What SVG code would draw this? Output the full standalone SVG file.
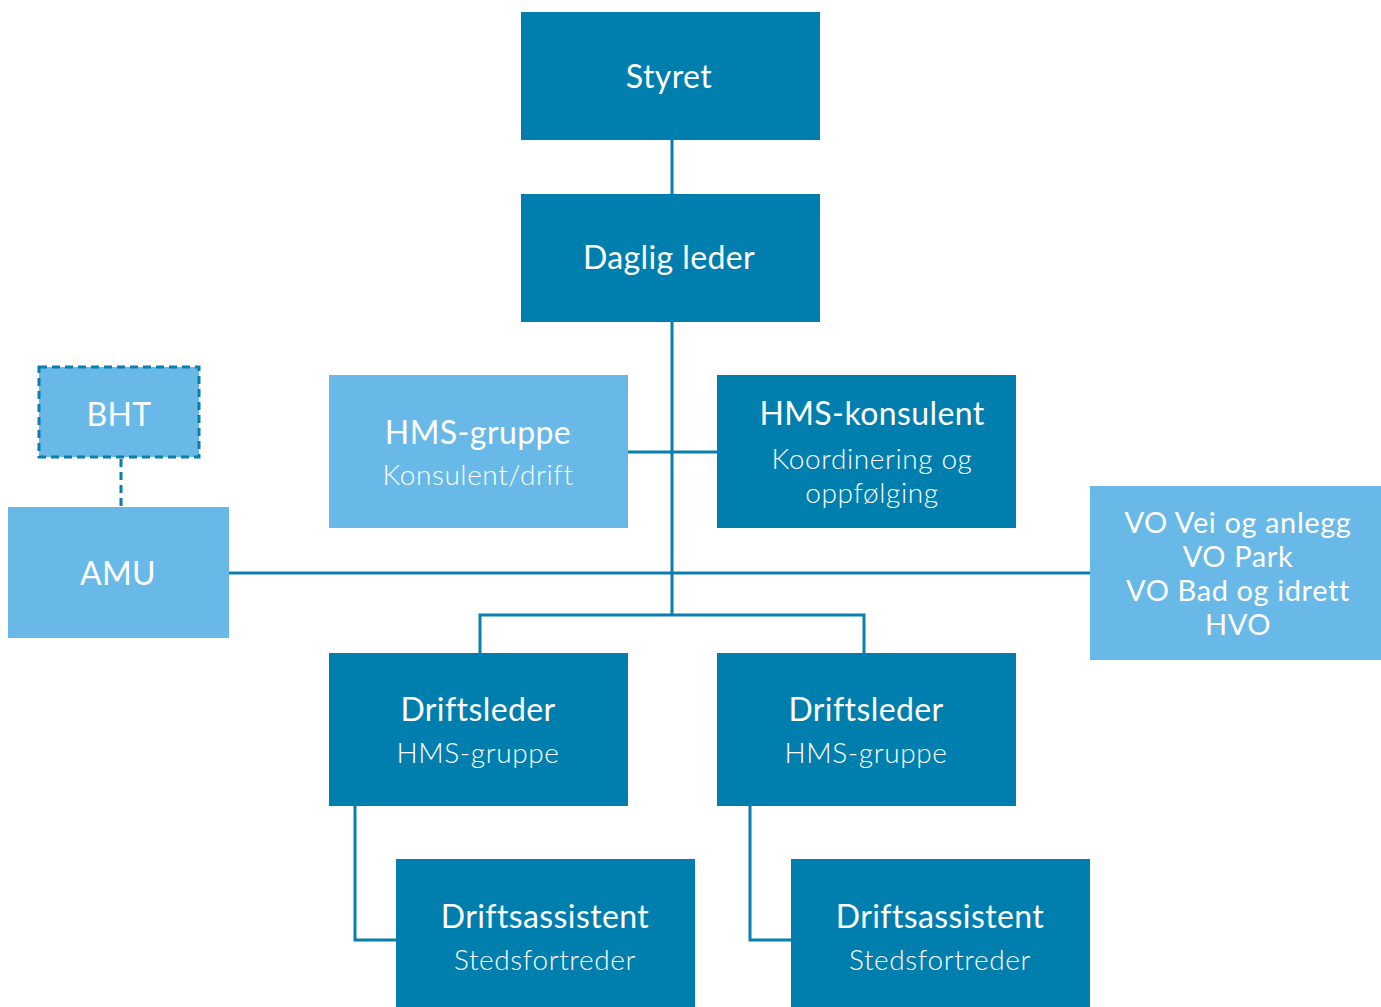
<svg xmlns="http://www.w3.org/2000/svg" width="1381" height="1007" viewBox="0 0 1381 1007">
<style>
.dark{fill:#007EAE}
.light{fill:#68B9E7}
.t{font-family:Lato,"Open Sans","Liberation Sans",sans-serif;fill:#fff;text-anchor:middle;font-size:32px;font-weight:400;letter-spacing:0.4px}
.s{font-family:Lato,"Open Sans","Liberation Sans",sans-serif;fill:#fff;text-anchor:middle;font-size:28px;font-weight:300;letter-spacing:0.6px}
.v{font-family:Lato,"Open Sans","Liberation Sans",sans-serif;fill:#fff;text-anchor:middle;font-size:29px;font-weight:400;letter-spacing:0.6px}
.c{fill:none;stroke:#0A7FAE;stroke-width:3}
</style>
<rect width="1381" height="1007" fill="#fff"/>
<g id="connectors">
<line class="c" x1="672" y1="140" x2="672" y2="194"/>
<line class="c" x1="672" y1="322" x2="672" y2="615"/>
<line class="c" x1="628" y1="452" x2="717" y2="452"/>
<line class="c" x1="229" y1="573" x2="1090" y2="573"/>
<polyline class="c" points="480,653 480,615 864,615 864,653"/>
<polyline class="c" points="355,806 355,940 396,940"/>
<polyline class="c" points="750,806 750,940 791,940"/>
<line class="c" x1="121" y1="459" x2="121" y2="507" stroke-dasharray="8,5"/>
</g>
<g id="styret"><rect class="dark" x="521" y="12" width="299" height="128"/><text class="t" x="669" y="88">Styret</text></g>
<g id="daglig-leder"><rect class="dark" x="521" y="194" width="299" height="128"/><text class="t" x="669" y="269">Daglig leder</text></g>
<g id="hms-gruppe"><rect class="light" x="329" y="375" width="299" height="153"/><text class="t" x="478" y="444">HMS-gruppe</text><text class="s" x="478" y="485">Konsulent/drift</text></g>
<g id="hms-konsulent"><rect class="dark" x="717" y="375" width="299" height="153"/><text class="t" x="872" y="425">HMS-konsulent</text><text class="s" x="872" y="469">Koordinering og</text><text class="s" x="872" y="503">oppfølging</text></g>
<g id="bht"><rect class="light" x="39" y="367" width="160" height="90" stroke="#0A7FAE" stroke-width="3" stroke-dasharray="8,5"/><text class="t" x="119" y="426">BHT</text></g>
<g id="amu"><rect class="light" x="8" y="507" width="221" height="131"/><text class="t" x="118" y="585">AMU</text></g>
<g id="vo"><rect class="light" x="1090" y="486" width="291" height="174"/><text class="v" x="1238" y="533">VO Vei og anlegg</text><text class="v" x="1238" y="567">VO Park</text><text class="v" x="1238" y="601">VO Bad og idrett</text><text class="v" x="1238" y="635">HVO</text></g>
<g id="driftsleder-1"><rect class="dark" x="329" y="653" width="299" height="153"/><text class="t" x="478" y="721">Driftsleder</text><text class="s" x="478" y="763">HMS-gruppe</text></g>
<g id="driftsleder-2"><rect class="dark" x="717" y="653" width="299" height="153"/><text class="t" x="866" y="721">Driftsleder</text><text class="s" x="866" y="763">HMS-gruppe</text></g>
<g id="driftsassistent-1"><rect class="dark" x="396" y="859" width="299" height="148"/><text class="t" x="545" y="928">Driftsassistent</text><text class="s" x="545" y="970">Stedsfortreder</text></g>
<g id="driftsassistent-2"><rect class="dark" x="791" y="859" width="299" height="148"/><text class="t" x="940" y="928">Driftsassistent</text><text class="s" x="940" y="970">Stedsfortreder</text></g>
</svg>
